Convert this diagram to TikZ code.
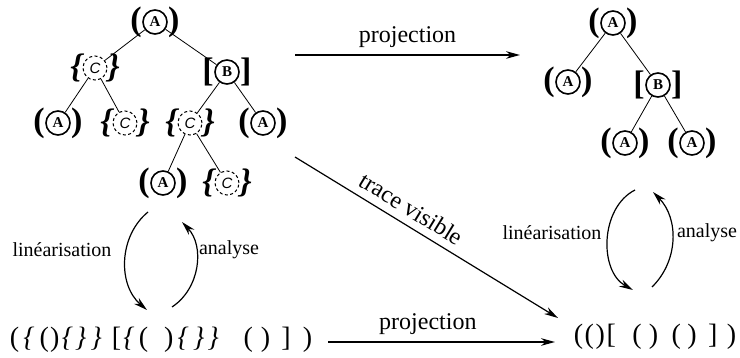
\documentclass[tikz,border=0pt]{standalone}
\usepackage{fontspec}
\setmainfont{Liberation Serif}
\setsansfont{Liberation Sans}
\usetikzlibrary{arrows.meta}

\newcommand{\opbr}{\textit{\{}}
\newcommand{\clbr}{\textit{\}}}

\tikzset{
  full/.style={draw, circle, line width=0.8pt, minimum size=12pt, inner sep=0pt,
    font=\bfseries\fontsize{7.5}{8}\selectfont},
  hollow/.style={draw, circle, dash pattern=on 1.5pt off 1.2pt, line width=0.5pt,
    minimum size=12pt, inner sep=0pt, font=\sffamily\itshape\fontsize{7.5}{8}\selectfont},
  delim/.style={inner sep=0pt, font=\bfseries\fontsize{17}{17}\selectfont},
  slant/.style={inner sep=0pt, font=\bfseries\itshape\fontsize{17}{17}\selectfont},
  paren/.style={label distance=0.8pt, label={[delim]left:(}, label={[delim]right:)}},
  bracket/.style={label distance=0.8pt, label={[delim]left:{[}}, label={[delim]right:{]}}},
  brace/.style={label distance=1.3pt, label={[slant]left:\{}, label={[slant]right:\}}},
  word/.style={inner sep=0pt, font=\fontsize{14}{16}\selectfont},
  tag/.style={font=\fontsize{12}{14}\selectfont},
  side/.style={font=\fontsize{10}{12}\selectfont},
  arr/.style={-{Stealth[length=7pt, width=3.8pt]}, line width=0.6pt},
}

\begin{document}
\begin{tikzpicture}[x=0.5pt, y=-0.5pt]
  \useasboundingbox (0,0) rectangle (740,358);

  % Left tree
  \node[full, paren] (l0) at (155,22) {A};
  \node[hollow, brace] (l1) at (95,68) {C};
  \node[full, bracket] (l2) at (227,72) {B};
  \node[full, paren] (l3) at (58,123) {A};
  \node[hollow, brace] (l4) at (125,123) {C};
  \node[hollow, brace] (l5) at (190,123) {C};
  \node[full, paren] (l6) at (263,123) {A};
  \node[full, paren] (l7) at (163,183) {A};
  \node[hollow, brace] (l8) at (227,183) {C};
  \draw (l0) -- (l1);
  \draw (l0) -- (l2);
  \draw (l1) -- (l3);
  \draw (l1) -- (l4);
  \draw (l2) -- (l5);
  \draw (l2) -- (l6);
  \draw (l5) -- (l7);
  \draw (l5) -- (l8);

  % Right tree
  \node[full, paren] (r0) at (613,23) {A};
  \node[full, paren] (r1) at (568,82) {A};
  \node[full, bracket] (r2) at (658,85) {B};
  \node[full, paren] (r3) at (625,143) {A};
  \node[full, paren] (r4) at (692,143) {A};
  \draw (r0) -- (r1);
  \draw (r0) -- (r2);
  \draw (r2) -- (r3);
  \draw (r2) -- (r4);

  % Strings
  \node[word] (lstr) at (161,340) {(\kern2.1pt\opbr\kern2.6pt(\kern0.6pt)\kern1.1pt\opbr\kern1.1pt\clbr\kern2.1pt\clbr\kern5.1pt[\kern1.1pt\opbr\kern2.1pt(\kern8pt)\kern2.1pt\opbr\kern2.1pt\clbr\kern1.6pt\clbr\kern12.4pt(\kern4pt)\kern5.6pt]\kern6.1pt)};
  \node[word] (rstr) at (655,337) {(\kern0.8pt(\kern0.8pt)\kern0.8pt[\kern8.2pt(\kern3.7pt)\kern6.7pt(\kern3.2pt)\kern5.7pt]\kern4.7pt)};

  % Projections
  \coordinate (pt1) at (295,55);
  \coordinate (pt2) at (520,55);
  \draw[arr] (pt1) -- node[tag, above] (ptl) {projection} (pt2);
  \coordinate (pb1) at (328,342);
  \coordinate (pb2) at (555,342);
  \draw[arr] (pb1) -- node[tag, above, pos=0.44] (pbl) {projection} (pb2);

  % Trace visible
  \coordinate (tv1) at (295,157);
  \coordinate (tv2) at (558,318);
  \draw[arr] (tv1) -- node[tag, above=0.5pt, sloped, pos=0.41] (tvl) {trace visible} (tv2);

  % Linearisation / analyse, left
  \coordinate (la1) at (148,212);
  \coordinate (la2) at (147,310);
  \coordinate (ra1) at (172,307);
  \coordinate (ra2) at (182,222);
  \draw[arr] (la1) to[bend right=50] (la2);
  \draw[arr] (ra1) to[bend right=50] (ra2);
  \node[side] (lin1) at (62,250) {linéarisation};
  \node[side] (ana1) at (229,250) {analyse};

  % Linearisation / analyse, right
  \coordinate (lb1) at (635,190);
  \coordinate (lb2) at (633,290);
  \coordinate (rb1) at (652,287);
  \coordinate (rb2) at (653,192);
  \draw[arr] (lb1) to[bend right=62] (lb2);
  \draw[arr] (rb1) to[bend right=45] (rb2);
  \node[side] (lin2) at (552,233) {linéarisation};
  \node[side] (ana2) at (707,233) {analyse};
\end{tikzpicture}
\end{document}
